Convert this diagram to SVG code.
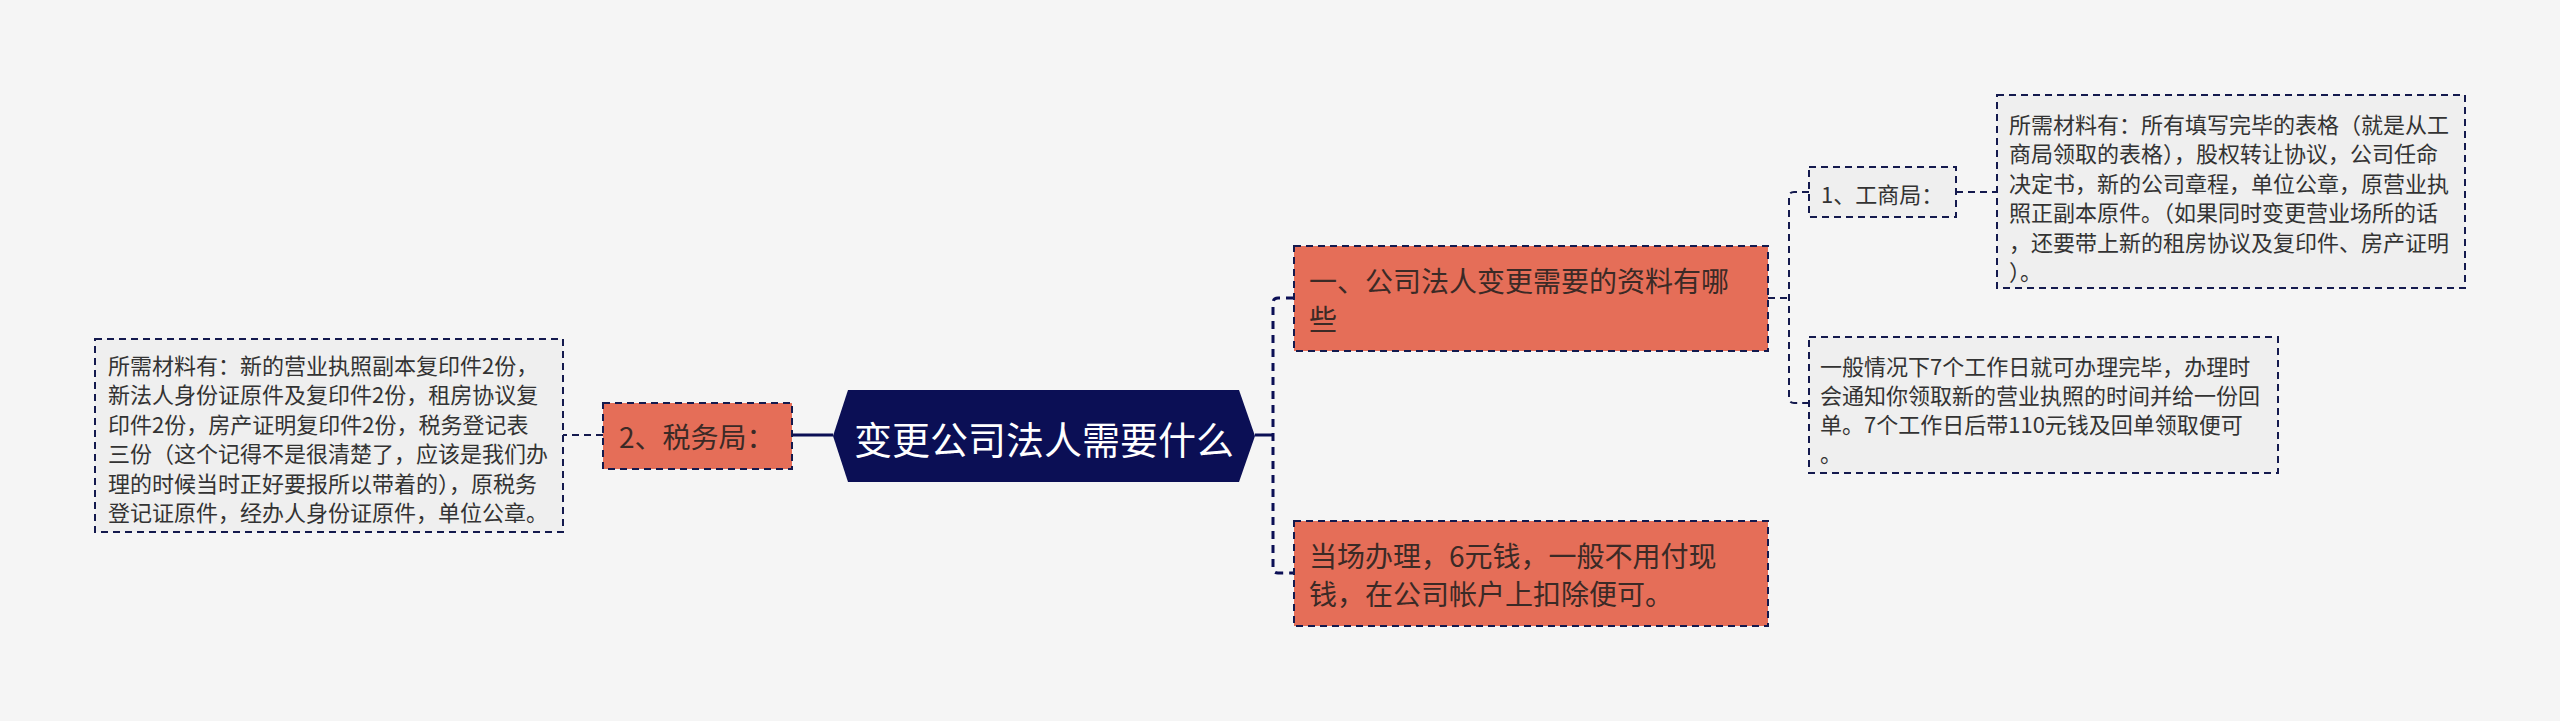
<svg xmlns="http://www.w3.org/2000/svg" width="2560" height="721" viewBox="0 0 2560 721">
<style>
text{font-family:"Noto Sans CJK SC","Noto Sans",sans-serif;dominant-baseline:central}
.bg{fill:#f5f5f5}
.orange{fill:#e56e58;stroke:#141a4e;stroke-width:2;stroke-dasharray:7 5}
.detail{fill:#efefef;stroke:#141a4e;stroke-width:2;stroke-dasharray:7 5}
.t28{font-size:28px;fill:#3b2a26}
.t22{font-size:22px;fill:#333333}
.solid{fill:none;stroke:#0b0f55;stroke-width:3}
.dash{fill:none;stroke:#0b0f55;stroke-width:3;stroke-dasharray:8 6}
.dash2{fill:none;stroke:#141a4e;stroke-width:2;stroke-dasharray:7 5}
</style>
<rect class="bg" x="0" y="0" width="2560" height="721"/>
<g id="connectors">
<path class="solid" d="M833,435 H792"/>
<path class="dash2" d="M603,435 H563"/>
<path class="solid" d="M1255,435 H1273"/>
<path class="dash" d="M1294,298 H1278 Q1273,298 1273,303 V568 Q1273,573 1278,573 H1294"/>
<path class="dash2" d="M1768,298 H1789"/>
<path class="dash2" d="M1809,192 H1794 Q1789,192 1789,197 V398 Q1789,403 1794,403 H1809"/>
<path class="dash2" d="M1956,192 H1997"/>
</g>
<g id="root">
<polygon points="833,436 848,390 1239,390 1255,436 1239,482 848,482" fill="#0b0f55"/>
<text x="1044" y="437" font-size="38" fill="#ffffff" text-anchor="middle">变更公司法人需要什么</text>
</g>
<g id="n-tax">
<rect class="orange" x="603" y="403" width="189" height="66"/>
<text class="t28" x="619" y="436">2、税务局：</text>
</g>
<g id="n-tax-detail">
<rect class="detail" x="95" y="339" width="468" height="193"/>
<text class="t22" x="108">
<tspan x="108" y="364">所需材料有：新的营业执照副本复印件2份，</tspan>
<tspan x="108" y="393">新法人身份证原件及复印件2份，租房协议复</tspan>
<tspan x="108" y="423">印件2份，房产证明复印件2份，税务登记表</tspan>
<tspan x="108" y="452">三份（这个记得不是很清楚了，应该是我们办</tspan>
<tspan x="108" y="482">理的时候当时正好要报所以带着的），原税务</tspan>
<tspan x="108" y="511">登记证原件，经办人身份证原件，单位公章。</tspan>
</text>
</g>
<g id="n-materials">
<rect class="orange" x="1294" y="246" width="474" height="105"/>
<text class="t28">
<tspan x="1309" y="280">一、公司法人变更需要的资料有哪</tspan>
<tspan x="1309" y="318">些</tspan>
</text>
</g>
<g id="n-onsite">
<rect class="orange" x="1294" y="521" width="474" height="105"/>
<text class="t28">
<tspan x="1309" y="555">当场办理，6元钱，一般不用付现</tspan>
<tspan x="1309" y="593">钱，在公司帐户上扣除便可。</tspan>
</text>
</g>
<g id="n-gsj">
<rect class="detail" x="1809" y="167" width="147" height="50"/>
<text class="t22" x="1821" y="193">1、工商局：</text>
</g>
<g id="n-gsj-detail">
<rect class="detail" x="1997" y="95" width="468" height="193"/>
<text class="t22">
<tspan x="2009" y="123">所需材料有：所有填写完毕的表格（就是从工</tspan>
<tspan x="2009" y="152">商局领取的表格），股权转让协议，公司任命</tspan>
<tspan x="2009" y="182">决定书，新的公司章程，单位公章，原营业执</tspan>
<tspan x="2009" y="211">照正副本原件。（如果同时变更营业场所的话</tspan>
<tspan x="2009" y="241">，还要带上新的租房协议及复印件、房产证明</tspan>
<tspan x="2009" y="270">）。</tspan>
</text>
</g>
<g id="n-days">
<rect class="detail" x="1809" y="337" width="469" height="136"/>
<text class="t22">
<tspan x="1820" y="365">一般情况下7个工作日就可办理完毕，办理时</tspan>
<tspan x="1820" y="394">会通知你领取新的营业执照的时间并给一份回</tspan>
<tspan x="1820" y="423">单。7个工作日后带110元钱及回单领取便可</tspan>
<tspan x="1820" y="452">。</tspan>
</text>
</g>
</svg>
